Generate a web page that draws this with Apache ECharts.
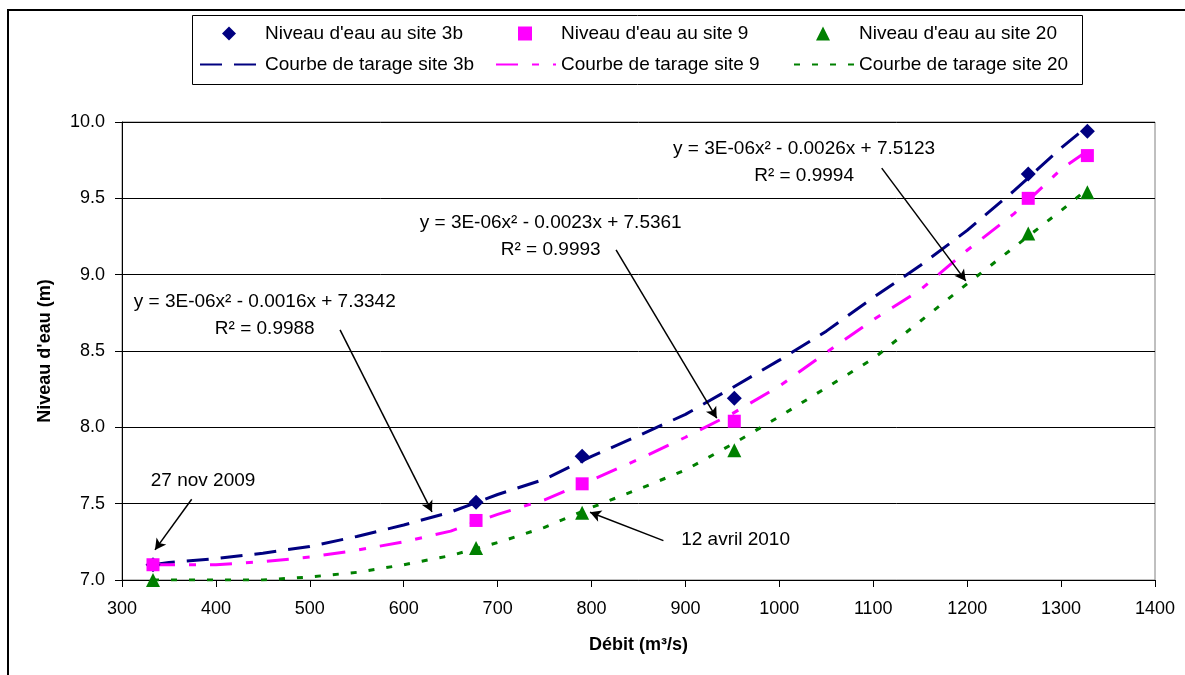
<!DOCTYPE html>
<html>
<head>
<meta charset="utf-8">
<script src="https://cdn.jsdelivr.net/npm/echarts@6/dist/echarts.min.js"></script>
<style>
html,body{margin:0;padding:0;background:#fff;}
#main{width:1185px;height:675px;}
</style>
</head>
<body>
<div id="main"></div>
<script>
// ---- data ----
const seriesNames = ["Niveau d'eau au site 3b", "Niveau d'eau au site 9", "Niveau d'eau au site 20"];
const curveNames = ["Courbe de tarage site 3b", "Courbe de tarage site 9", "Courbe de tarage site 20"];

const obsX   = [333, 677, 790, 952, 1265, 1328];
const obs3b  = [7.10, 7.51, 7.81, 8.19, 9.66, 9.94];
const obs9   = [7.10, 7.39, 7.63, 8.04, 9.50, 9.78];
const obs20  = [7.00, 7.21, 7.44, 7.85, 9.27, 9.54];

const curveX  = [333, 350, 400, 450, 500, 550, 600, 650, 700, 750, 800, 850, 900, 950, 1000, 1050, 1100, 1150, 1200, 1250, 1300, 1328];
const curve3b = [7.10, 7.115, 7.14, 7.175, 7.22, 7.285, 7.36, 7.445, 7.56, 7.66, 7.81, 7.945, 8.085, 8.26, 8.44, 8.63, 8.85, 9.06, 9.29, 9.55, 9.83, 9.97];
const curve9  = [7.10, 7.10, 7.10, 7.12, 7.15, 7.195, 7.25, 7.32, 7.43, 7.525, 7.655, 7.79, 7.935, 8.09, 8.27, 8.49, 8.705, 8.90, 9.16, 9.40, 9.69, 9.81];
const curve20 = [7.00, 7.00, 7.00, 7.00, 7.02, 7.05, 7.10, 7.16, 7.245, 7.345, 7.475, 7.595, 7.72, 7.89, 8.07, 8.26, 8.45, 8.695, 8.94, 9.18, 9.42, 9.56];

const xTicks = {min: 300, max: 1400, step: 100};
const yTicks = {min: 7, max: 10, step: 0.5};

// annotation texts (anchored in data units) and arrows
const annotationTexts = [
  {text: 'y = 3E-06x² - 0.0016x + 7.3342\nR² = 0.9988', at: [452, 8.737]},
  {text: 'y = 3E-06x² - 0.0023x + 7.5361\nR² = 0.9993', at: [756.5, 9.254]},
  {text: 'y = 3E-06x² - 0.0026x + 7.5123\nR² = 0.9994', at: [1026.3, 9.739]},
  {text: '27 nov 2009', at: [386.3, 7.651]},
  {text: '12 avril 2010', at: [953.4, 7.262]}
];
const arrowSegments = [
  [[532.2, 8.638], [630.1, 7.446]],
  [[826.1, 9.163], [933.3, 8.060]],
  [[1109.0, 9.698], [1198.5, 8.959]],
  [[374.2, 7.529], [335.1, 7.197]],
  [[876.5, 7.258], [798.4, 7.444]]
];

// ---- chart ----
const FONT = 'Arial, "Liberation Sans", sans-serif';
const colors = ['#000080', '#FF00FF', '#008000'];
const zip = (xs, ys) => xs.map((x, i) => [x, ys[i]]);

const chart = echarts.init(document.getElementById('main'), null, {renderer: 'canvas'});

const legendText = {fontSize: 19, color: '#000', fontFamily: FONT};
const symbolLegend = (left, name) => ({
  orient: 'horizontal', left: left, top: 24, itemWidth: 14, itemHeight: 14, padding: 0,
  selectedMode: false, textStyle: Object.assign({padding: [0, 0, 0, 24]}, legendText),
  data: [{name: name}]
});
const lineLegend = (left, name) => ({
  orient: 'horizontal', left: left, top: 55, itemWidth: 60, itemHeight: 14, padding: 0,
  selectedMode: false, textStyle: legendText,
  data: [{name: name, itemStyle: {opacity: 0}}]
});

const option = {
  animation: false,
  backgroundColor: '#ffffff',
  textStyle: {fontFamily: FONT},
  grid: {left: 122, right: 30, top: 122, bottom: 95, show: true, borderColor: '#808080', borderWidth: 1, backgroundColor: 'transparent'},
  legend: [
    symbolLegend(222, seriesNames[0]),
    symbolLegend(518, seriesNames[1]),
    symbolLegend(816, seriesNames[2]),
    lineLegend(199, curveNames[0]),
    lineLegend(495, curveNames[1]),
    lineLegend(793, curveNames[2])
  ],
  xAxis: {
    type: 'value', min: xTicks.min, max: xTicks.max, interval: xTicks.step,
    name: 'Débit (m³/s)', nameLocation: 'middle', nameGap: 56,
    nameTextStyle: {fontWeight: 'bold', fontSize: 18, color: '#000', fontFamily: FONT},
    axisLine: {show: true, onZero: false, lineStyle: {color: '#000', width: 1}},
    axisTick: {show: true, length: 7, lineStyle: {color: '#000', width: 1}},
    axisLabel: {fontSize: 18, color: '#000', margin: 20, fontFamily: FONT, formatter: v => String(v)},
    splitLine: {show: false}
  },
  yAxis: {
    type: 'value', min: yTicks.min, max: yTicks.max, interval: yTicks.step,
    name: "Niveau d'eau (m)", nameLocation: 'middle', nameGap: 68,
    nameTextStyle: {fontWeight: 'bold', fontSize: 18, color: '#000', fontFamily: FONT},
    axisLine: {show: true, onZero: false, lineStyle: {color: '#000', width: 1}},
    axisTick: {show: true, length: 7, lineStyle: {color: '#000', width: 1}},
    axisLabel: {fontSize: 18, color: '#000', margin: 17, fontFamily: FONT, formatter: v => v.toFixed(1)},
    splitLine: {show: true, lineStyle: {color: '#000', width: 1}}
  },
  series: [
    {
      name: curveNames[0], type: 'line', data: zip(curveX, curve3b), symbol: 'none', showSymbol: false,
      smooth: false, z: 2,
      lineStyle: {color: colors[0], width: 3, type: [22, 12]}, itemStyle: {color: colors[0]},
      markLine: {
        silent: true, symbol: ['none', 'arrow'], symbolSize: [9, 11], animation: false,
        lineStyle: {color: '#000', width: 1.5, type: 'solid'}, label: {show: false},
        emphasis: {disabled: true},
        data: arrowSegments.map(s => [{coord: s[0]}, {coord: s[1]}])
      }
    },
    {
      name: curveNames[1], type: 'line', data: zip(curveX, curve9), symbol: 'none', showSymbol: false,
      smooth: false, z: 2,
      lineStyle: {color: colors[1], width: 3, type: [22, 14, 7, 14]}, itemStyle: {color: colors[1]}
    },
    {
      name: curveNames[2], type: 'line', data: zip(curveX, curve20), symbol: 'none', showSymbol: false,
      smooth: false, z: 2,
      lineStyle: {color: colors[2], width: 3, type: [6, 12]}, itemStyle: {color: colors[2]}
    },
    {name: seriesNames[0], type: 'scatter', data: zip(obsX, obs3b), symbol: 'diamond', symbolSize: 15, z: 3, itemStyle: {color: colors[0], opacity: 1}},
    {name: seriesNames[1], type: 'scatter', data: zip(obsX, obs9), symbol: 'rect', symbolSize: 13, z: 3, itemStyle: {color: colors[1], opacity: 1}},
    {name: seriesNames[2], type: 'scatter', data: zip(obsX, obs20), symbol: 'triangle', symbolSize: 14, z: 3, itemStyle: {color: colors[2], opacity: 1}}
  ]
};

chart.setOption(option);

const graphics = [
  {type: 'rect', silent: true, z: 100, shape: {x: 8, y: 10, width: 1200, height: 700}, style: {fill: 'none', stroke: '#000', lineWidth: 2}},
  {type: 'rect', silent: true, z: 100, shape: {x: 192.5, y: 15.5, width: 890, height: 69}, style: {fill: 'none', stroke: '#000', lineWidth: 1}}
];
annotationTexts.forEach(a => {
  const p = chart.convertToPixel({gridIndex: 0}, a.at);
  graphics.push({
    type: 'text', silent: true, z: 100, x: p[0], y: p[1],
    style: {text: a.text, align: 'center', verticalAlign: 'middle', font: '19px ' + FONT, fill: '#000', lineHeight: 27}
  });
});
chart.setOption({graphic: graphics});
</script>
</body>
</html>
